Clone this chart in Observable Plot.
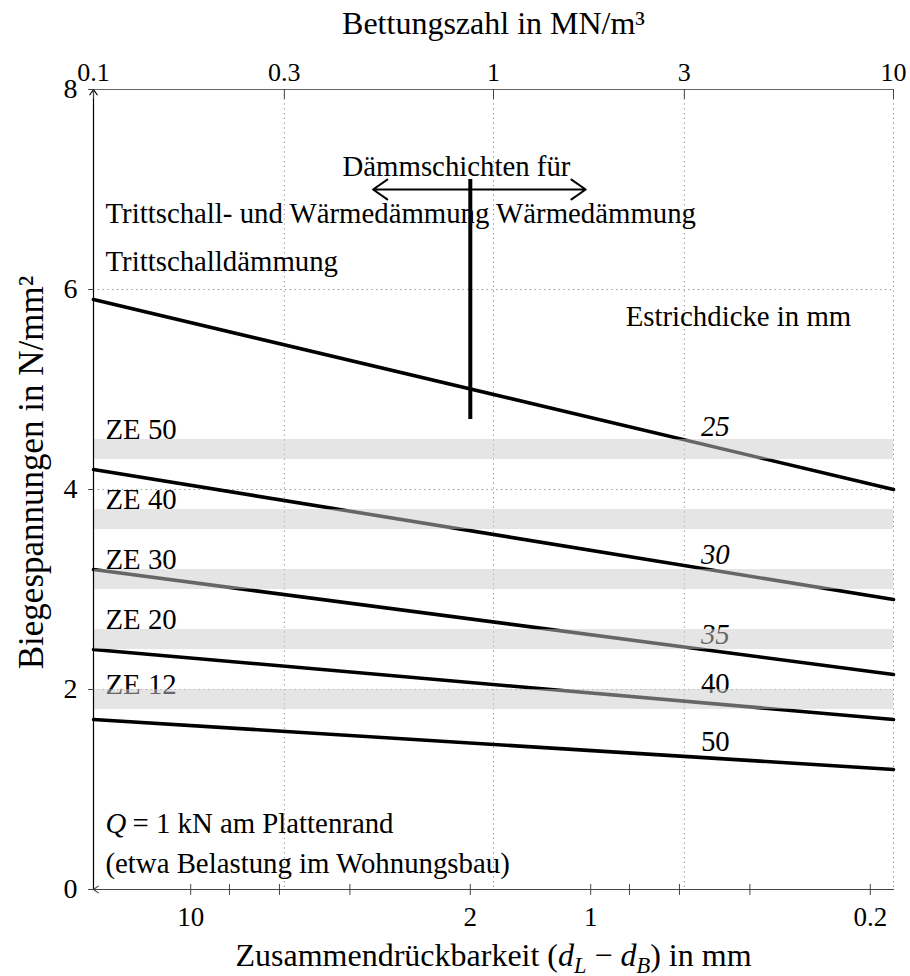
<!DOCTYPE html>
<html><head><meta charset="utf-8">
<script src="https://cdn.jsdelivr.net/npm/d3@7"></script>
<script src="https://cdn.jsdelivr.net/npm/@observablehq/plot@0.6"></script>
<style>body{margin:0;background:#fff;} svg{display:block}</style>
</head><body><div id="chart"></div>
<script>
// ---------- data ----------
const kDomain = [0.1, 10];          // Bettungszahl (top axis), MN/m³
const yDomain = [0, 8];             // Biegespannung, N/mm²
const dFactor = 1.75;               // Zusammendrückbarkeit d = dFactor / k (bottom axis)
const topTicks = [0.1, 0.3, 1, 3, 10];
const gridK = [0.3, 1, 3, 10];
const gridY = [2, 4, 6];
const yTicks = [0, 2, 4, 6, 8];
const bottomTicks = [10, 8, 6, 4, 2, 1, 0.8, 0.6, 0.4, 0.2];
const bottomLabels = [10, 2, 1, 0.2];

const thickness = [25, 30, 35, 40, 50];
const stressAtKmin = [5.9, 4.2, 3.2, 2.4, 1.7];
const stressAtKmax = [4.0, 2.9, 2.15, 1.7, 1.2];
const thicknessItalic = [true, true, true, false, false];
const thicknessLabelK = 3.3;
const thicknessLabelY = [4.54, 3.26, 2.46, 1.97, 1.39];

const classes = ["ZE 50", "ZE 40", "ZE 30", "ZE 20", "ZE 12"];
const classLow = [4.3, 3.6, 3.0, 2.4, 1.8];
const classHigh = [4.5, 3.8, 3.2, 2.6, 2.0];
const classLabelY = [4.51, 3.81, 3.21, 2.61, 1.96];

const dividerD = 2;                 // mm, boundary of insulation types
const dividerY = [4.7, 7.1];
const arrowEndsK = [0.5, 1.7];
const arrowY = 7.0;

const leftNotes = ["Trittschall- und Wärmedämmung Wärmedämmung", "Trittschalldämmung", "(etwa Belastung im Wohnungsbau)"];
const leftNotesY = [6.67, 6.19, 0.17];
const loadSymbol = "Q";
const loadText = "= 1 kN am Plattenrand";
const loadY = 0.57;
const headerText = "Dämmschichten für";
const headerK = 0.808, headerY = 7.14;
const thicknessTitle = "Estrichdicke in mm";
const thicknessTitleK = 2.14, thicknessTitleY = 5.64;

const topTitle = "Bettungszahl in MN/m³";
const bottomTitle = "Zusammendrückbarkeit (dL − dB) in mm";
const leftTitle = "Biegespannungen in N/mm²";

// ---------- derived tables ----------
const lineRows = thickness.flatMap((t, i) => [
  {t, k: kDomain[0], s: stressAtKmin[i]},
  {t, k: kDomain[1], s: stressAtKmax[i]}
]);
const bandRows = classes.map((c, i) => ({c, lo: classLow[i], hi: classHigh[i], ly: classLabelY[i]}));
const labelRows = thickness.map((t, i) => ({t, y: thicknessLabelY[i], it: thicknessItalic[i]}));
const dividerK = dFactor / dividerD;
const fmt = v => String(Math.round(v * 1000) / 1000);
const tickShape = {draw(context, l) { context.moveTo(0, 0); context.lineTo(0, -l); }};

const FONT = "'Liberation Serif', 'Times New Roman', serif";
const FS = 28.8;
const T = (data, opts) => Plot.text(data, {fontFamily: FONT, fontSize: FS, lineAnchor: "bottom", fill: "#000", ...opts});

const svg = Plot.plot({
  width: 910, height: 976,
  marginLeft: 93, marginRight: 17, marginTop: 89, marginBottom: 87,
  style: `font-family: ${FONT}; font-size: 28px; background: #fff; color: #000;`,
  x: {type: "log", domain: kDomain, label: null, axis: null},
  y: {domain: yDomain, label: null, axis: null},
  marks: [
    // grid
    Plot.gridX(gridK, {stroke: "#8a8a8a", strokeOpacity: 1, strokeDasharray: "1.2,3.6"}),
    Plot.gridY(gridY, {stroke: "#8a8a8a", strokeOpacity: 1, strokeDasharray: "1.2,3.6"}),
    Plot.ruleY([yDomain[1]], {stroke: "#666", strokeWidth: 1}),
    // curves
    Plot.line(lineRows, {x: "k", y: "s", z: "t", stroke: "#000", strokeWidth: 3.6}),
    // texts that lie partially under the bands
    T(labelRows.filter(d => d.it), {x: () => thicknessLabelK, y: "y", text: d => String(d.t), textAnchor: "start", fontStyle: "italic"}),
    T(labelRows.filter(d => !d.it), {x: () => thicknessLabelK, y: "y", text: d => String(d.t), textAnchor: "start"}),
    T(bandRows, {frameAnchor: "left", y: "ly", text: "c", dx: 12, textAnchor: "start"}),
    // strength classes bands
    Plot.rect(bandRows, {x1: () => kDomain[0], x2: () => kDomain[1], y1: "lo", y2: "hi", fill: "#cbcbcb", fillOpacity: 0.5}),
    // annotations
    T(leftNotes, {frameAnchor: "left", y: (d, i) => leftNotesY[i], dx: 12, textAnchor: "start"}),
    T([loadSymbol], {frameAnchor: "left", y: () => loadY, dx: 12, textAnchor: "start", fontStyle: "italic"}),
    T([loadText], {frameAnchor: "left", y: () => loadY, dx: 39, textAnchor: "start"}),
    T([headerText], {x: () => headerK, y: () => headerY, textAnchor: "middle"}),
    T([thicknessTitle], {x: () => thicknessTitleK, y: () => thicknessTitleY, textAnchor: "start"}),
    Plot.ruleX([dividerK], {x: d => d, y1: () => dividerY[0], y2: () => dividerY[1], stroke: "#000", strokeWidth: 4}),
    Plot.arrow(arrowEndsK, {x1: () => dividerK, x2: d => d, y1: () => arrowY, y2: () => arrowY, stroke: "#000", strokeWidth: 2, headLength: 13, headAngle: 70}),
    // axes lines
    Plot.arrow([0], {x1: () => kDomain[0], x2: () => kDomain[0], y1: () => yDomain[0], y2: () => yDomain[1], stroke: "#000", strokeWidth: 1.2, headLength: 8, headAngle: 70}),
    Plot.arrow([0], {x1: () => kDomain[1], x2: () => kDomain[0], y1: () => yDomain[0], y2: () => yDomain[0], stroke: "#444", strokeWidth: 1.1, headLength: 8, headAngle: 70}),
    // ticks
    Plot.vector(topTicks, {x: d => d, y: () => yDomain[1], length: 9, rotate: 180, anchor: "start", shape: tickShape, stroke: "#444", strokeWidth: 1}),
    Plot.vector(bottomTicks, {x: d => dFactor / d, y: () => yDomain[0], length: 10, rotate: 0, anchor: "middle", shape: tickShape, stroke: "#444", strokeWidth: 1}),
    Plot.vector(yTicks, {x: () => kDomain[0], y: d => d, length: 5, rotate: -90, anchor: "start", shape: tickShape, stroke: "#444", strokeWidth: 1}),
    // tick labels
    T(yTicks, {frameAnchor: "left", y: d => d, text: d => fmt(d), dx: -16, textAnchor: "end", lineAnchor: "middle", fontSize: 28}),
    T(topTicks, {x: d => d, y: () => yDomain[1], text: d => fmt(d), dy: -9, textAnchor: "middle", fontSize: 26}),
    T(bottomLabels, {x: d => dFactor / d, y: () => yDomain[0], text: d => fmt(d), dy: 36, textAnchor: "middle", fontSize: 27}),
    // titles
    T([topTitle], {frameAnchor: "top", dy: -56, textAnchor: "middle", fontSize: 32}),
    T([bottomTitle], {frameAnchor: "bottom", dy: 76, textAnchor: "middle", fontSize: 32}),
    T([leftTitle], {frameAnchor: "left", dx: -51, dy: -17, rotate: -90, textAnchor: "middle", fontSize: 35})
  ]
});
document.getElementById("chart").append(svg);

// typeset (d_L − d_B) with italic d and subscripts
d3.select(svg).selectAll("text").filter(function () { return this.textContent === bottomTitle; }).each(function () {
  const t = d3.select(this);
  t.text(null);
  const parts = [
    ["Zusammendrückbarkeit (", false, 0],
    ["d", true, 0], ["L", true, 7], [" − ", false, -7],
    ["d", true, 0], ["B", true, 7], [") in mm", false, -7]
  ];
  for (const [s, it, dy] of parts) {
    const sp = t.append("tspan").text(s);
    if (it) sp.attr("font-style", "italic");
    if (dy) sp.attr("dy", dy);
    if (dy > 0) sp.attr("font-size", "0.7em");
  }
});
</script>
</body></html>
